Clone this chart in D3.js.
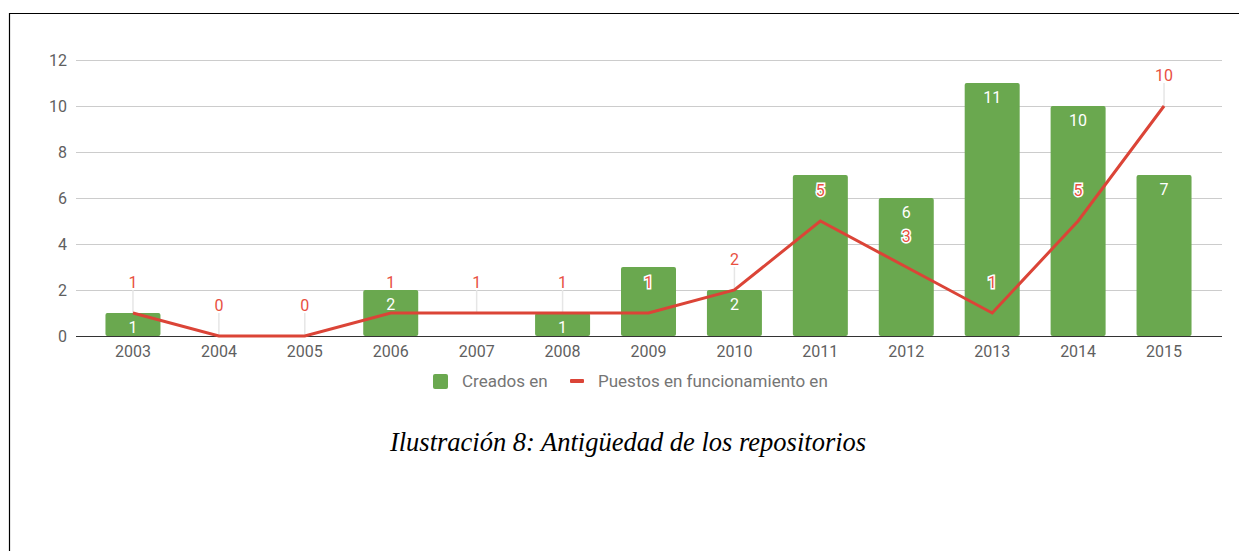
<!DOCTYPE html>
<html>
<head>
<meta charset="utf-8">
<script src="https://cdn.jsdelivr.net/npm/d3@7"></script>
<style>
  body { margin: 0; background: #fff; }
  text { font-family: Roboto, "Noto Sans", sans-serif; }
  .caption { font-family: "Liberation Serif", "DejaVu Serif", serif; font-style: italic; }
</style>
</head>
<body>
<svg id="chart"></svg>
<script>
// chart data
var years = ["2003", "2004", "2005", "2006", "2007", "2008", "2009", "2010", "2011", "2012", "2013", "2014", "2015"]
var creados = [1, 0, 0, 2, 0, 1, 3, 2, 7, 6, 11, 10, 7]
var puestos = [1, 0, 0, 1, 1, 1, 1, 2, 5, 3, 1, 5, 10]
var yTicks = [0, 2, 4, 6, 8, 10, 12]
var seriesNames = ["Creados en", "Puestos en funcionamiento en"]
var captionText = "Ilustración 8: Antigüedad de los repositorios"

var W = 1239, H = 551
var green = "#6aa84f", red = "#db4437", labelRed = "#e8503f"
var fs = "16px"

var svg = d3.select("#chart").attr("width", W).attr("height", H)

// page frame (left and top edges only)
svg.append("path")
  .attr("d", "M9.5," + H + "V13.5H" + W)
  .attr("fill", "none")
  .attr("stroke", "#000")
  .attr("stroke-width", 1.2)

var x = d3.scaleBand()
  .domain(years)
  .range([90, 1207])
  .paddingInner(0.36)
  .paddingOuter(0.18)

var y = d3.scaleLinear()
  .domain([0, 12])
  .range([336, 60])

var gridLeft = 76, gridRight = 1222

// grid lines + y labels
var yAxis = svg.append("g")
  .attr("transform", "translate(" + gridLeft + ",0)")
  .call(d3.axisLeft(y).tickValues(yTicks).tickSize(-(gridRight - gridLeft)).tickPadding(9))
yAxis.select(".domain").remove()
yAxis.selectAll(".tick line").attr("stroke", "#cccccc")
yAxis.selectAll(".tick text")
  .attr("fill", "#5f5f5f")
  .style("font-size", fs)

// x labels
var xAxis = svg.append("g")
  .attr("transform", "translate(0," + y(0) + ")")
  .call(d3.axisBottom(x).tickSize(0).tickPadding(10))
xAxis.select(".domain").remove()
xAxis.selectAll(".tick text")
  .attr("fill", "#5f5f5f")
  .style("font-size", fs)

var cx = function(d) { return x(d) + x.bandwidth() / 2 }

// stems for line annotations (drawn behind the bars)
svg.append("g").selectAll("line")
  .data(years)
  .enter()
  .append("line")
  .attr("x1", cx).attr("x2", cx)
  .attr("y1", function(d, i) { return y(puestos[i]) - 23 })
  .attr("y2", function(d, i) { return y(puestos[i]) })
  .attr("stroke", "#e6e6e6")
  .attr("stroke-width", 1.5)

// bars
svg.append("g").selectAll("rect")
  .data(years)
  .enter()
  .append("rect")
  .attr("x", function(d) { return x(d) })
  .attr("y", function(d, i) { return y(creados[i]) })
  .attr("width", x.bandwidth())
  .attr("height", function(d, i) { return y(0) - y(creados[i]) })
  .attr("rx", 2)
  .attr("fill", green)

// baseline
svg.append("line")
  .attr("x1", gridLeft).attr("x2", gridRight)
  .attr("y1", y(0) + 0.5).attr("y2", y(0) + 0.5)
  .attr("stroke", "#333")
  .attr("stroke-width", 1.2)

// line series
var line = d3.line()
  .x(function(d) { return cx(d) })
  .y(function(d, i) { return y(puestos[i]) })

svg.append("path")
  .datum(years)
  .attr("d", line)
  .attr("fill", "none")
  .attr("stroke", red)
  .attr("stroke-width", 3)

// bar value labels, hidden when zero or when a line label sits on them
svg.append("g").selectAll("text")
  .data(years.filter(function(d, i) {
    var barLabelY = y(creados[i]) + 14
    var lineLabelY = y(puestos[i]) - 30
    return creados[i] > 0 && Math.abs(barLabelY - lineLabelY) > 14
  }))
  .enter()
  .append("text")
  .attr("x", cx)
  .attr("y", function(d) { return y(creados[years.indexOf(d)]) + 20 })
  .attr("text-anchor", "middle")
  .attr("fill", "#fff")
  .style("font-size", fs)
  .text(function(d) { return creados[years.indexOf(d)] })

// line value labels with white halo
svg.append("g").selectAll("text")
  .data(years)
  .enter()
  .append("text")
  .attr("x", cx)
  .attr("y", function(d, i) { return y(puestos[i]) - 25 })
  .attr("text-anchor", "middle")
  .attr("fill", labelRed)
  .attr("stroke", "#fff")
  .attr("stroke-width", 3)
  .attr("paint-order", "stroke")
  .style("font-size", fs)
  .text(function(d, i) { return puestos[i] })

// legend
var legend = svg.append("g")
legend.append("rect")
  .attr("x", 433).attr("y", 374)
  .attr("width", 15).attr("height", 15)
  .attr("rx", 2)
  .attr("fill", green)
legend.append("text")
  .attr("x", 462).attr("y", 387)
  .attr("fill", "#757575")
  .style("font-size", "17px")
  .text(seriesNames[0])
legend.append("rect")
  .attr("x", 570).attr("y", 379)
  .attr("width", 14).attr("height", 4)
  .attr("rx", 1)
  .attr("fill", red)
legend.append("text")
  .attr("x", 598).attr("y", 387)
  .attr("fill", "#757575")
  .style("font-size", "17px")
  .text(seriesNames[1])

// caption
svg.append("text")
  .attr("class", "caption")
  .attr("x", 628).attr("y", 451)
  .attr("text-anchor", "middle")
  .attr("fill", "#000")
  .style("font-size", "26.5px")
  .text(captionText)
</script>
</body>
</html>
